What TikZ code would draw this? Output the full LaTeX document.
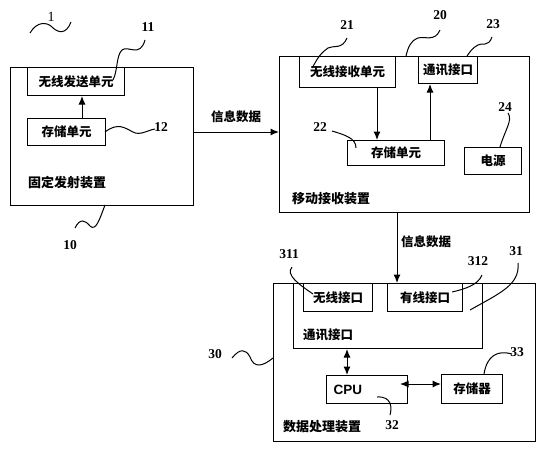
\documentclass[tikz,border=0pt]{standalone}
\usepackage{fontspec}
\setmainfont{Liberation Serif}
\newfontfamily\cjk{Noto Sans CJK SC}
\newfontfamily\lat{Liberation Sans}
\usetikzlibrary{arrows.meta,calc}
\begin{document}
\begin{tikzpicture}[x=1pt,y=-1pt,
  box/.style={draw,line width=1pt,inner sep=0pt,anchor=north west,font=\cjk\bfseries\fontsize{12.5}{14}\selectfont},
  lbl/.style={anchor=west,inner sep=0pt,font=\cjk\bfseries\fontsize{13}{14}\selectfont},
  num/.style={inner sep=0pt,font=\bfseries\fontsize{13.5}{14}\selectfont},
  lead/.style={line width=1pt},
  arr/.style={line width=1pt,-{Latex[length=8.5pt,width=7pt]}},
  darr/.style={line width=1pt,{Latex[length=8.5pt,width=7pt]}-{Latex[length=8.5pt,width=7pt]}}]
\useasboundingbox (0,0) rectangle (545,450);
% ---- fixed transmitter
\node[box,minimum width=183,minimum height=138] (b10) at (10,67) {};
\node[box,minimum width=97,minimum height=28] (b11) at (27,67) {无线发送单元};
\node[box,minimum width=78,minimum height=27] (b12) at (27,118) {存储单元};
\node[lbl] (t10) at (28,183) {固定发射装置};
\draw[arr] ($(b12.north west)+(55,0)$) -- ($(b11.south west)+(55,0)$);
% ---- mobile receiver
\node[box,minimum width=250,minimum height=156] (b20) at (279,56) {};
\node[box,minimum width=96,minimum height=31] (b21) at (299,56) {无线接收单元};
\node[box,minimum width=59,minimum height=27] (b23) at (418,56) {通讯接口};
\node[box,minimum width=97,minimum height=25] (b22) at (347,140) {存储单元};
\node[box,minimum width=57,minimum height=27] (b24) at (464,147) {电源};
\node[lbl] (t20) at (292,199) {移动接收装置};
\draw[arr] ($(b21.south west)+(78,0)$) -- ($(b22.north west)+(30,0)$);
\draw[arr] ($(b22.north west)+(83,0)$) -- ($(b23.south west)+(12,0)$);
% ---- data processing
\node[box,minimum width=262,minimum height=158] (b30) at (273,283) {};
\node[box,minimum width=189,minimum height=65] (b31) at (293,283) {};
\node[box,minimum width=69,minimum height=28] (b311) at (303,283) {无线接口};
\node[box,minimum width=75,minimum height=28] (b312) at (387,283) {有线接口};
\node[lbl,font=\cjk\bfseries\fontsize{12.5}{14}\selectfont] (t31) at (303,335) {通讯接口};
\node[box,minimum height=28,inner xsep=7pt,text width=67pt,align=left,font=\lat\bfseries\fontsize{13.5}{14}\selectfont] (b32) at (326,375) {CPU};
\node[box,minimum width=61,minimum height=29] (b33) at (441,374) {存储器};
\node[lbl] (t30) at (283,427) {数据处理装置};
\draw[darr] ($(b31.south west)+(54,0)$) -- ($(b32.north west)+(21,0)$);
\draw[darr] ($(b32.north west)+(74,9)$) -- ($(b33.north west)+(0,10)$);
% ---- links between devices
\draw[arr] ($(b10.north east)+(0,65)$) -- ($(b20.north west)+(0,76)$);
\node[lbl,anchor=center,font=\cjk\bfseries\fontsize{12.5}{14}\selectfont] (m1) at (236,117) {信息数据};
\draw[arr] ($(b20.south west)+(118,0)$) -- ($(b30.north west)+(124,0)$);
\node[lbl,anchor=center,font=\cjk\bfseries\fontsize{12.5}{14}\selectfont] (m2) at (426,242) {信息数据};
% ---- reference numbers and leader lines
\node[num,font=\fontsize{14}{14}\selectfont] (n1) at (51,17) {1};
\draw[lead] (30,33) .. controls (37,21) and (47,22) .. (52,27) .. controls (58,33) and (66,35) .. (71,22);
\node[num] (n11) at (148,27) {11};
\draw[lead] (145,40) .. controls (140,58) and (128,45) .. (122,50) .. controls (116,56) and (118,70) .. (113,80);
\node[num] (n12) at (161,127) {12};
\draw[lead] (105,132) .. controls (118,122) and (125,128) .. (133,132) .. controls (140,136) and (148,130) .. (155,129);
\node[num] (n10) at (70,245) {10};
\draw[lead] (105,205) .. controls (100,218) and (96,232) .. (90,226) .. controls (85,220) and (80,218) .. (75,228);
\node[num] (n21) at (347,25) {21};
\draw[lead] (347,38) .. controls (342,50) and (333,45) .. (328,48) .. controls (318,55) and (316,62) .. (312,68);
\node[num] (n20) at (440,15) {20};
\draw[lead] (440,30) .. controls (435,42) and (425,36) .. (418,38) .. controls (410,41) and (408,48) .. (406,56);
\node[num] (n23) at (493,24) {23};
\draw[lead] (492,37) .. controls (488,48) and (482,42) .. (478,45) .. controls (472,48) and (470,52) .. (467,56);
\node[num] (n24) at (505,107) {24};
\draw[lead] (508,113) .. controls (513,120) and (505,130) .. (500,147);
\node[num] (n22) at (320,127) {22};
\draw[lead] (332,131) .. controls (345,135) and (356,138) .. (356,148);
\node[num] (n311) at (289,254) {311};
\draw[lead] (292,267) .. controls (285,275) and (300,285) .. (313,294);
\node[num] (n312) at (478,261) {312};
\draw[lead] (482,275) .. controls (478,285) and (465,289) .. (452,292);
\node[num] (n31) at (516,251) {31};
\draw[lead] (518,263) .. controls (520,285) and (500,293) .. (470,310);
\node[num] (n30) at (215,354) {30};
\draw[lead] (232,358) .. controls (240,348) and (246,349) .. (250,357) .. controls (254,368) and (262,367) .. (273,358);
\node[num] (n32) at (392,425) {32};
\draw[lead] (377,397) .. controls (392,396) and (392,408) .. (390,415);
\node[num] (n33) at (517,352) {33};
\draw[lead] (512,354) .. controls (498,350) and (487,355) .. (484,374);
\end{tikzpicture}
\end{document}
